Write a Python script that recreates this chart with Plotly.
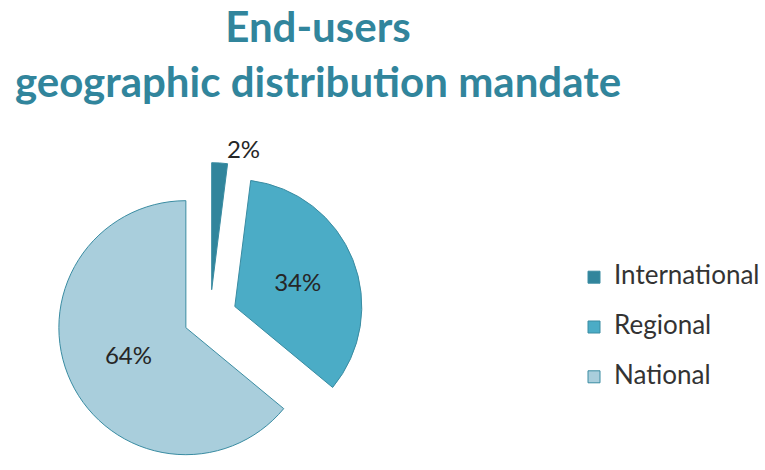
import plotly.graph_objects as go

# Share of end-users by geographic mandate (percent)
categories = ["International", "Regional", "National"]
shares = [2, 34, 64]
slice_colors = ["#31859C", "#4BACC6", "#A9CEDC"]

W, H = 765, 470

# Pie geometry in pixels (radius and centre of the unexploded pie)
pull = 0.21
radius = 127
cx = 210
box = 2 * radius * (1 + pull)

# Legend entries: a larger glyph size inside a taller legend line,
# the trailing break gives each entry extra vertical room
legend_labels = [
    f"<span style='font-size:26px'>{c}</span><br>" for c in categories
]

fig = go.Figure(
    go.Pie(
        labels=legend_labels,
        values=shares,
        sort=False,
        direction="clockwise",
        rotation=0,
        pull=[pull] * len(shares),
        marker=dict(colors=slice_colors, line=dict(color="#3A8CA2", width=1)),
        textinfo="percent",
        textposition=["outside", "inside", "inside"],
        insidetextorientation="horizontal",
        textfont=dict(family="Lato", size=24, color="#262626"),
        hoverinfo="percent",
        domain=dict(
            x=[(cx - box / 2) / W, (cx + box / 2) / W],
            y=[0, box / H],
        ),
    )
)

fig.update_layout(
    width=W,
    height=H,
    margin=dict(l=0, r=0, t=0, b=0, autoexpand=False),
    paper_bgcolor="white",
    plot_bgcolor="white",
    title=dict(
        text="<b>End-users<br>geographic distribution mandate</b>",
        font=dict(family="Lato", size=42, color="#31859C"),
        x=318 / W,
        xanchor="center",
        y=1 - 42 / H,
        yanchor="top",
    ),
    legend=dict(
        x=574 / W,
        xanchor="left",
        y=1 - 259 / H,
        yanchor="top",
        valign="top",
        font=dict(family="Lato", size=18, color="#333333"),
        bgcolor="rgba(0,0,0,0)",
    ),
)

fig.write_html("out.html")
